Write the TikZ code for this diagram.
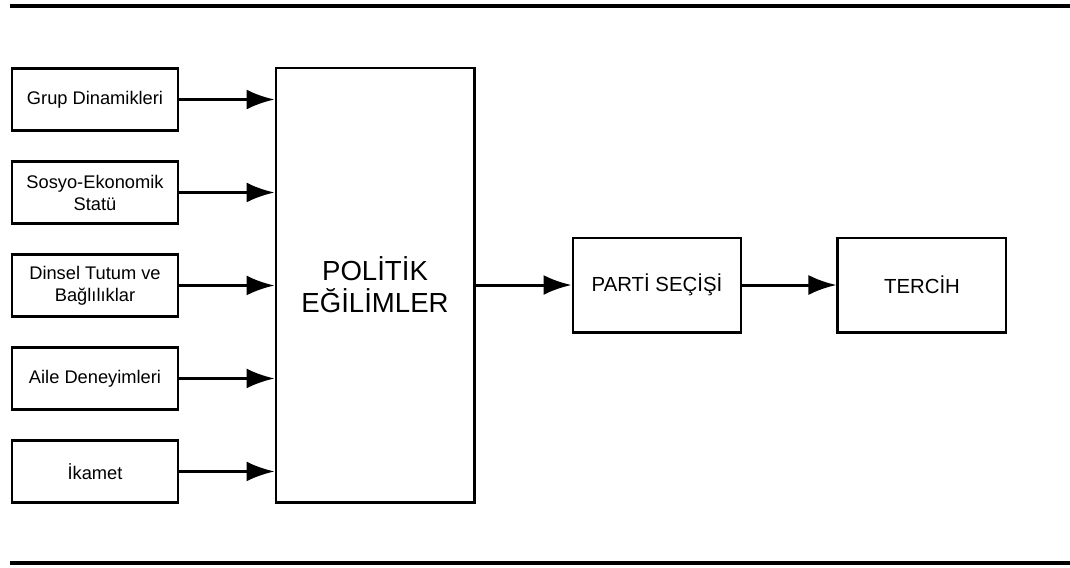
\documentclass[tikz,border=0pt]{standalone}
\usepackage{fontspec}
\setmainfont{Liberation Sans}
\usetikzlibrary{arrows.meta, positioning}

\begin{document}
\begin{tikzpicture}[node distance=0.56cm, line width=1.7pt,
    factor/.style={rectangle, draw, minimum width=3.32cm, minimum height=1.24cm, align=center, font=\fontsize{10.4}{12.5}\selectfont},
    core/.style={rectangle, draw, minimum width=3.96cm, minimum height=8.68cm, align=center, font=\fontsize{15.7}{18.2}\selectfont},
    outcome/.style={rectangle, draw, minimum width=3.36cm, minimum height=1.88cm, font=\fontsize{11.6}{14}\selectfont},
    flow/.style={-{Latex[length=0.56cm, width=0.4cm]}},
    rule/.style={line width=2.2pt}]

    \useasboundingbox (0,0) rectangle (21.4,-11.34);
    \draw[rule] (0.2,-0.12) -- (21.4,-0.12);
    \draw[rule] (0.2,-11.26) -- (21.4,-11.26);

    \node[factor] (grup) at (1.9,-1.99) {Grup Dinamikleri};
    \node[factor, below=of grup] (sosyo) {Sosyo-Ekonomik\\Statü};
    \node[factor, below=of sosyo] (dinsel) {Dinsel Tutum ve\\Bağlılıklar};
    \node[factor, below=of dinsel] (aile) {Aile Deneyimleri};
    \node[factor, below=of aile] (ikamet) {İkamet};
    \node[core] (politik) at (7.5,-5.7) {POLİTİK\\EĞİLİMLER};
    \node[outcome, right=1.92cm of politik] (parti) {PARTİ SEÇİŞİ};
    \node[outcome, right=1.88cm of parti] (tercih) {TERCİH};

    \draw[flow] (grup) -- (grup -| politik.west);
    \draw[flow] (sosyo) -- (sosyo -| politik.west);
    \draw[flow] (dinsel) -- (dinsel -| politik.west);
    \draw[flow] (aile) -- (aile -| politik.west);
    \draw[flow] (ikamet) -- (ikamet -| politik.west);
    \draw[flow] (politik) -- (parti);
    \draw[flow] (parti) -- (tercih);
\end{tikzpicture}
\end{document}
